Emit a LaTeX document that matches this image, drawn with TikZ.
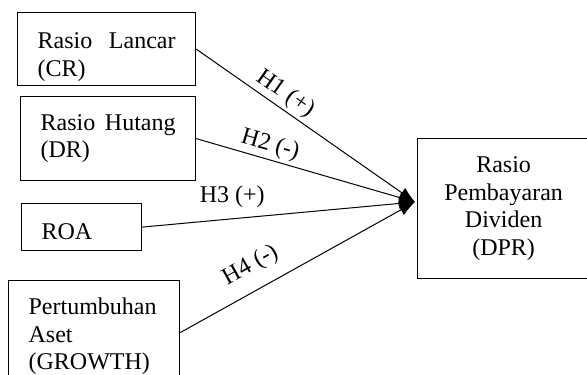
\documentclass[tikz,border=0pt]{standalone}
\usepackage{fontspec}
\setmainfont{Liberation Serif}
\usetikzlibrary{arrows.meta}
\newcommand{\toppad}[1]{\rule{0pt}{#1}}

\begin{document}
\begin{tikzpicture}[x=0.5pt,y=-0.5pt,font=\fontsize{12pt}{13.8pt}\selectfont]
	\tikzstyle{var}=[draw=black, line width=0.6pt, anchor=north west, inner xsep=10pt, inner ysep=0pt, align=justify]
	\tikzstyle{dep}=[draw=black, line width=0.6pt, anchor=north west, inner sep=0pt, align=center, text width=86pt, minimum height=70pt]
	\tikzstyle{hyp}=[inner sep=1.5pt, font=\fontsize{12pt}{13.8pt}\selectfont]
	\tikzstyle{connect}=[-{Latex[length=8pt,width=6pt]}, line width=0.5pt]
	\useasboundingbox (0,0) rectangle (587,374);
	  \node[var, text width=69pt, minimum height=36.5pt] (cr) at (17,12) {\toppad{16pt}Rasio Lancar (CR)};
	  \node[var, text width=67.5pt, minimum height=42pt] (dr) at (20,96) {Rasio Hutang (DR)};
	  \node[var, text width=40pt, minimum height=23.5pt, align=left] (roa) at (21,203) {\toppad{13pt}ROA};
	  \node[var, text width=65.5pt, minimum height=52pt, align=left] (growth) at (8,280) {\toppad{12pt}Pertumbuhan\\Aset\\(GROWTH)};
	  \node[dep] (dpr) at (417,138) {Rasio\\Pembayaran\\Dividen\\(DPR)};
	  \coordinate (tip) at (415,202);
	  \path
	    (cr.east) edge [connect] node[hyp, sloped, above, pos=0.37] {H1 (+)} (tip)
	    (dr.east) edge [connect] node[hyp, sloped, above, pos=0.32] {H2 (-)} (tip)
	    (roa.east) edge [connect] node[hyp, above=4pt, pos=0.33] {H3 (+)} (tip)
	    (growth.east) edge [connect] node[hyp, sloped, above=5pt, pos=0.35] {H4 (-)} (tip);
\end{tikzpicture}
\end{document}
